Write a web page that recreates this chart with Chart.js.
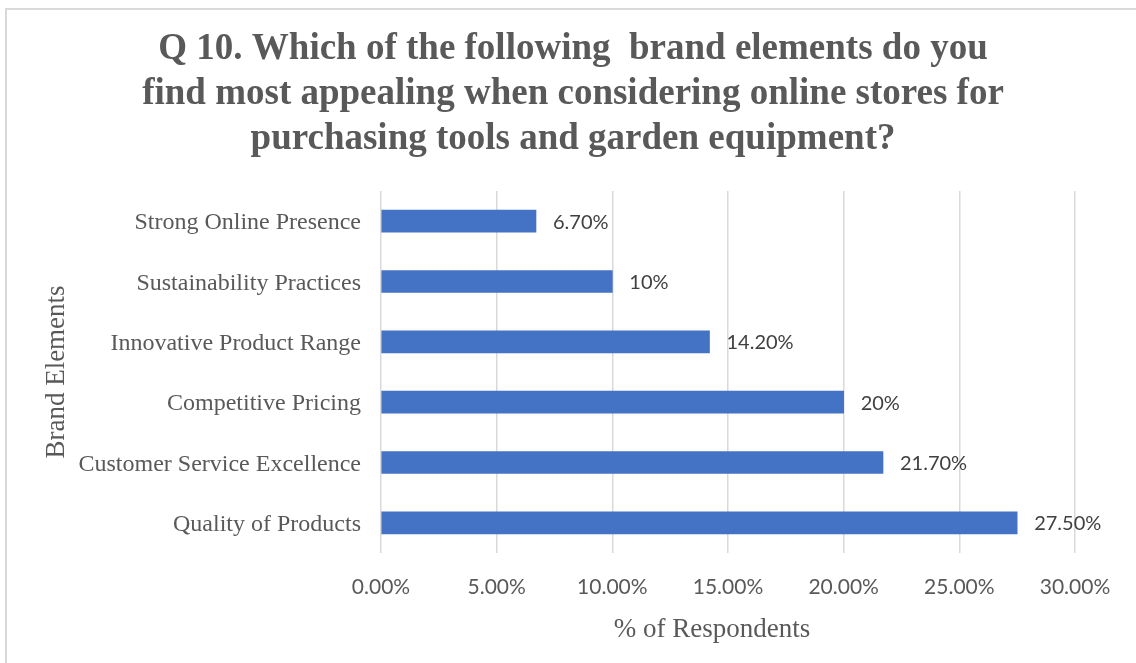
<!DOCTYPE html>
<html>
<head>
<meta charset="utf-8">
<title>Brand Elements</title>
<script src="https://cdn.jsdelivr.net/npm/chart.js@4.4.0/dist/chart.umd.min.js"></script>
<style>
  body { margin: 0; background: #fff; }
  #frame { position: absolute; left: 5px; top: 8px; width: 1140px; height: 660px;
           border-left: 2px solid #d9d9d9; border-top: 2px solid #d9d9d9; }
  #barChart { position: absolute; left: 0; top: 0; }
</style>
</head>
<body>
<div id="frame"></div>
<canvas id="barChart" width="1136" height="663"></canvas>
<script>
const elements = [
    "Strong Online Presence",
    "Sustainability Practices",
    "Innovative Product Range",
    "Competitive Pricing",
    "Customer Service Excellence",
    "Quality of Products"
]
const respondents = [6.7, 10, 14.2, 20, 21.7, 27.5]
const valueLabels = ["6.70%", "10%", "14.20%", "20%", "21.70%", "27.50%"]
const xTicks = [0, 5, 10, 15, 20, 25, 30]

const grey = "#595959"

// writes the percentage next to the end of each bar
const barValues = {
    id: "barValues",
    afterDatasetsDraw(chart) {
        const ctx = chart.ctx
        const meta = chart.getDatasetMeta(0)
        ctx.save()
        ctx.font = "20px Lato"
        ctx.fillStyle = "#404040"
        ctx.textAlign = "left"
        ctx.textBaseline = "middle"
        meta.data.forEach((bar, i) => {
            ctx.fillText(valueLabels[i], bar.x + 17, bar.y + 1)
        })
        ctx.restore()
    }
}

// nudge a scale's drawing method by dx, dy
const nudge = (scale, method, dx, dy) => {
    if (scale["_nudged_" + method]) return
    const orig = scale[method].bind(scale)
    scale[method] = function (...args) {
        const ctx = this.ctx
        ctx.save()
        ctx.translate(dx, dy)
        orig(...args)
        ctx.restore()
    }
    scale["_nudged_" + method] = true
}

// title spans the whole frame, axis title/labels sit a little off the plot box
const layoutTweaks = {
    id: "layoutTweaks",
    afterLayout(chart) {
        chart.titleBlock.left = 10
        chart.titleBlock.right = chart.width
        nudge(chart.scales.x, "drawTitle", -16, 1)
        nudge(chart.scales.y, "drawLabels", 0, 2)
    }
}

new Chart("barChart", {
    type: "bar",
    data: {
        labels: elements,
        datasets: [{
            data: respondents,
            backgroundColor: "#4472c4",
            barThickness: 22
        }]
    },
    options: {
        indexAxis: "y",
        responsive: false,
        animation: false,
        layout: {padding: {left: 0, right: 61, top: 0, bottom: 0}},
        plugins: {
            legend: {display: false},
            tooltip: {enabled: false},
            title: {
                display: true,
                text: [
                    "Q 10. Which of the following  brand elements do you",
                    "find most appealing when considering online stores for",
                    "purchasing tools and garden equipment?"
                ],
                color: grey,
                font: {family: "Liberation Serif", size: 37, weight: "bold", lineHeight: 1.216},
                padding: {top: 27, bottom: 29}
            }
        },
        scales: {
            x: {
                min: 0,
                max: 30,
                afterFit: (scale) => { scale.height = 110 },
                afterBuildTicks: (scale) => { scale.ticks = xTicks.map(v => ({value: v})) },
                grid: {color: "#d9d9d9", lineWidth: 1.5, drawTicks: false},
                border: {display: false},
                ticks: {
                    color: grey,
                    padding: 22,
                    font: {family: "Lato", size: 21},
                    callback: (v) => v.toFixed(2) + "%"
                },
                title: {
                    display: true,
                    text: "% of Respondents",
                    color: grey,
                    font: {family: "Liberation Serif", size: 27},
                    padding: {top: 0, bottom: 18}
                }
            },
            y: {
                afterFit: (scale) => { scale.width = 381 },
                grid: {display: false, drawTicks: false},
                border: {display: false},
                ticks: {
                    color: grey,
                    padding: 20,
                    font: {family: "Liberation Serif", size: 24}
                },
                title: {
                    display: true,
                    text: "Brand Elements",
                    color: grey,
                    font: {family: "Liberation Serif", size: 27},
                    padding: {top: 41, bottom: 0}
                }
            }
        }
    },
    plugins: [barValues, layoutTweaks]
})
</script>
</body>
</html>
